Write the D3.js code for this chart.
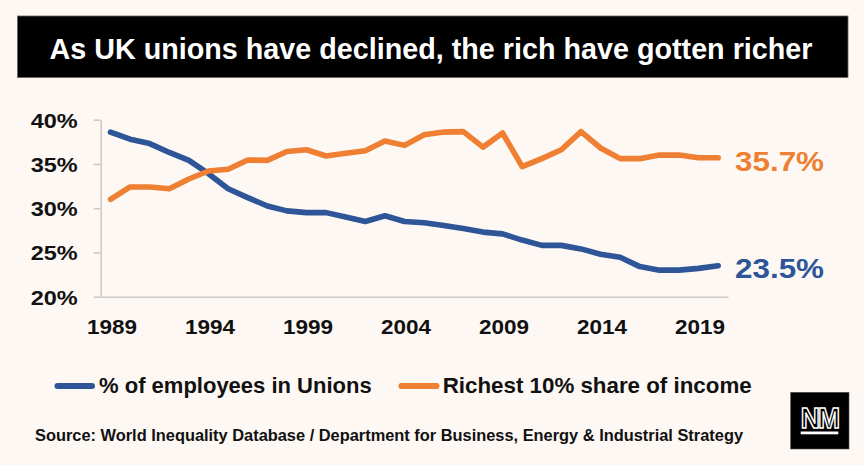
<!DOCTYPE html>
<html><head><meta charset="utf-8">
<script src="https://cdn.jsdelivr.net/npm/d3@7"></script>
<style>
html,body{margin:0;padding:0;background:#fdf8f4;}
svg{display:block;}
text{font-family:"Liberation Sans",Arial,Helvetica,sans-serif;font-weight:bold;}
</style></head>
<body>
<svg id="c" width="864" height="465"></svg>
<script>
const years = d3.range(1989, 2021);
const unions = [38.6,37.8,37.3,36.3,35.4,33.9,32.2,31.2,30.25,29.7,29.5,29.5,29.0,28.5,29.15,28.5,28.35,28.05,27.7,27.3,27.1,26.4,25.8,25.8,25.4,24.8,24.45,23.4,23.0,23.0,23.2,23.5];
const richest = [31.0,32.4,32.4,32.2,33.3,34.2,34.4,35.45,35.4,36.4,36.6,35.9,36.2,36.5,37.6,37.1,38.3,38.6,38.65,36.9,38.5,34.7,35.6,36.6,38.65,36.8,35.6,35.6,36.0,36.0,35.7,35.7];
const yTicks = [20,25,30,35,40];
const xTicks = [1989,1994,1999,2004,2009,2014,2019];
const seriesNames = ["% of employees in Unions","Richest 10% share of income"];
const endLabels = ["23.5%","35.7%"];
const title = "As UK unions have declined, the rich have gotten richer";
const source = "Source: World Inequality Database / Department for Business, Energy & Industrial Strategy";

const BLUE = "#2d5597", ORANGE = "#ef7f32", GRID = "#cdcac7";
const svg = d3.select("#c");
svg.append("rect").attr("width",864).attr("height",465).attr("fill","#fdf8f4");

// Title
svg.append("rect").attr("x",17.5).attr("y",16).attr("width",830.5).attr("height",61.5)
  .attr("fill","#000").attr("stroke","#6b6360").attr("stroke-width",0.8);
svg.append("text").attr("x",49.5).attr("y",59).attr("fill","#fff").attr("font-size",29.5)
  .attr("textLength",763).attr("lengthAdjust","spacingAndGlyphs").text(title);

const x = d3.scalePoint().domain(years).range([100.7,728]).padding(0.5);
const y = d3.scaleLinear().domain([20,40]).range([296.7,119.7]);

// Y axis
const ya = svg.append("g").attr("transform","translate(100.7,0)")
  .call(d3.axisLeft(y).tickValues(yTicks).tickFormat(d=>d+"%").tickSize(7).tickSizeOuter(0).tickPadding(16));
ya.select(".domain").attr("stroke",GRID).attr("stroke-width",1.6);
ya.selectAll(".tick line").attr("stroke",GRID).attr("stroke-width",1.6);
ya.selectAll(".tick text").attr("fill","#111").attr("font-size",20.5).attr("font-family",null)
  .attr("textLength",47).attr("lengthAdjust","spacingAndGlyphs").attr("dy","0.36em");

// X axis
const xa = svg.append("g").attr("transform","translate(0,296.7)")
  .call(d3.axisBottom(x).tickValues(xTicks).tickSize(0).tickSizeOuter(0).tickPadding(23));
xa.select(".domain").attr("stroke",GRID).attr("stroke-width",1.6);
xa.selectAll(".tick text").attr("fill","#111").attr("font-size",20.5).attr("font-family",null)
  .attr("textLength",50).attr("lengthAdjust","spacingAndGlyphs").attr("dx",1);

// Lines
const line = d3.line().x((d,i)=>x(years[i])).y(d=>y(d));
[[unions,BLUE],[richest,ORANGE]].forEach(([vals,col])=>{
  svg.append("path").datum(vals).attr("d",line).attr("fill","none").attr("stroke",col)
    .attr("stroke-width",5.6).attr("stroke-linejoin","round").attr("stroke-linecap","round");
});

// End labels
svg.append("text").attr("x",735).attr("y",170.7).attr("fill",ORANGE).attr("font-size",28)
  .attr("textLength",89).attr("lengthAdjust","spacingAndGlyphs").text(endLabels[1]);
svg.append("text").attr("x",735).attr("y",277.7).attr("fill",BLUE).attr("font-size",28)
  .attr("textLength",89).attr("lengthAdjust","spacingAndGlyphs").text(endLabels[0]);

// Legend
const leg = [[54.5,95,99,371.7,BLUE,seriesNames[0]],[398.5,439.5,442.7,751.7,ORANGE,seriesNames[1]]];
leg.forEach(([l1,l2,t1,t2,col,name])=>{
  svg.append("line").attr("x1",l1+3).attr("x2",l2-3).attr("y1",386).attr("y2",386)
    .attr("stroke",col).attr("stroke-width",6).attr("stroke-linecap","round");
  svg.append("text").attr("x",t1).attr("y",393.3).attr("fill","#111").attr("font-size",22)
    .attr("textLength",t2-t1).attr("lengthAdjust","spacingAndGlyphs").text(name);
});

// Source
svg.append("text").attr("x",35).attr("y",441).attr("fill","#111").attr("font-size",17)
  .attr("textLength",708).attr("lengthAdjust","spacingAndGlyphs").text(source);

// Logo
const lg = svg.append("g");
lg.append("rect").attr("x",790.7).attr("y",392.3).attr("width",58.3).attr("height",56.7).attr("fill","#000")
  .attr("stroke","#555").attr("stroke-width",0.6);
lg.append("text").attr("x",800.7).attr("y",428.3).attr("fill","#000").attr("stroke","#fff").attr("stroke-width",1.6)
  .attr("font-size",30).attr("textLength",37.6).attr("lengthAdjust","spacingAndGlyphs").attr("letter-spacing",-2).text("NM");
lg.append("rect").attr("x",800.7).attr("y",431.5).attr("width",37.6).attr("height",2.8).attr("fill","#fff");
</script>
</body></html>
